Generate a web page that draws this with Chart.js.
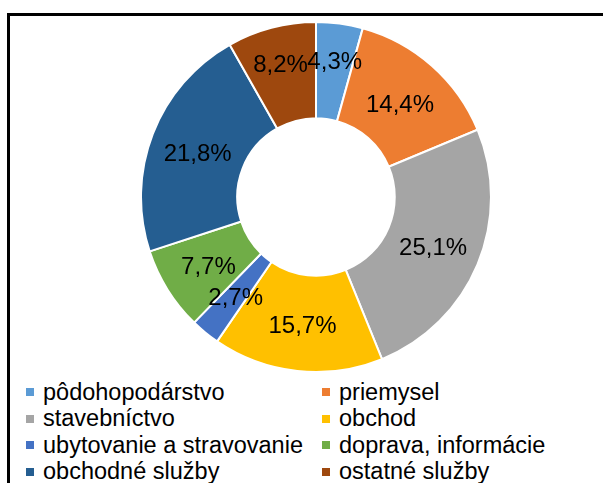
<!DOCTYPE html>
<html>
<head>
<meta charset="utf-8">
<script src="https://cdn.jsdelivr.net/npm/chart.js@4/dist/chart.umd.min.js"></script>
<style>
  body { margin: 0; background: #fff; font-family: "Liberation Sans", Arial, sans-serif; }
  #frame { position: absolute; left: 7px; top: 13px; width: 640px; height: 520px; border: 3px solid #000; box-sizing: border-box; }
  #wrap { position: absolute; left: 140px; top: 21px; width: 352px; height: 352px; }
  #legend { position: absolute; left: 26px; top: 379px; display: grid; grid-template-columns: 296px 260px; grid-auto-rows: 26.5px; font-size: 23.5px; color: #000; }
  .item { display: flex; align-items: center; white-space: nowrap; }
  .box { width: 8px; height: 8px; margin-right: 9px; }
</style>
</head>
<body>
<div id="frame"></div>
<div id="wrap"><canvas id="donut"></canvas></div>
<div id="legend"></div>
<script>
// categories + shares (%)
const categories = ['pôdohopodárstvo', 'priemysel', 'stavebníctvo', 'obchod',
  'ubytovanie a stravovanie', 'doprava, informácie', 'obchodné služby', 'ostatné služby'];
const shares = [4.3, 14.4, 25.1, 15.7, 2.7, 7.7, 21.8, 8.2];
const colors = ['#5B9BD5', '#ED7D31', '#A5A5A5', '#FFC000', '#4472C4', '#70AD47', '#255E91', '#9E480E'];

// small radial push for the two crowded labels at the top
const labelPush = [12, 0, 0, 0, 0, 0, 0, 12];

//draw the % labels on each slice
const sliceLabels = {
  id: 'sliceLabels',
  afterDatasetsDraw(chart) {
    const ctx = chart.ctx;
    const meta = chart.getDatasetMeta(0);
    ctx.save();
    ctx.font = '24px "Liberation Sans", Arial, sans-serif';
    ctx.fillStyle = '#000';
    ctx.textAlign = 'center';
    ctx.textBaseline = 'middle';
    meta.data.forEach((arc, i) => {
      const p = arc.tooltipPosition();
      const mid = (arc.startAngle + arc.endAngle) / 2;
      const x = p.x + Math.cos(mid) * labelPush[i];
      const y = p.y + Math.sin(mid) * labelPush[i] + 3;
      ctx.fillText(shares[i].toFixed(1).replace('.', ',') + '%', x, y);
    });
    ctx.restore();
  }
};

new Chart(document.getElementById('donut'), {
  type: 'doughnut',
  data: {
    labels: categories,
    datasets: [{
      data: shares,
      backgroundColor: colors,
      borderColor: '#fff',
      borderWidth: 2
    }]
  },
  options: {
    responsive: true,
    maintainAspectRatio: false,
    animation: false,
    cutout: '45%',
    plugins: {
      legend: { display: false },
      tooltip: { enabled: false }
    }
  },
  plugins: [sliceLabels]
});

// legend, two columns
const legend = document.getElementById('legend');
categories.forEach((name, i) => {
  const item = document.createElement('div');
  item.className = 'item';
  item.innerHTML = '<span class="box" style="background:' + colors[i] + '"></span>' + name;
  legend.appendChild(item);
});
</script>
</body>
</html>
